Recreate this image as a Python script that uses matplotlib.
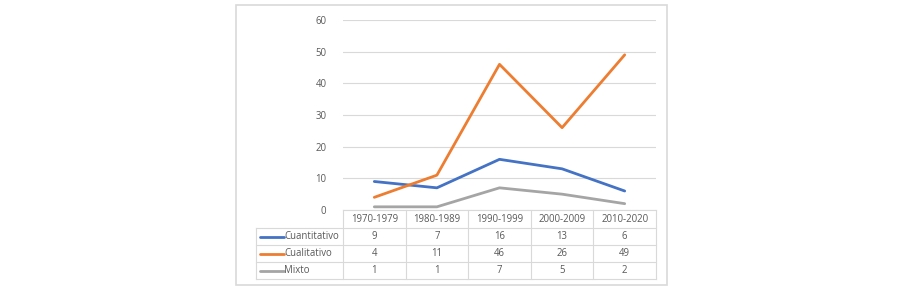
import matplotlib
matplotlib.use("Agg")
import matplotlib.pyplot as plt
from matplotlib.patches import Rectangle

categories = ["1970-1979", "1980-1989", "1990-1999", "2000-2009", "2010-2020"]
series_names = ["Cuantitativo", "Cualitativo", "Mixto"]
cuantitativo = [9, 7, 16, 13, 6]
cualitativo = [4, 11, 46, 26, 49]
mixto = [1, 1, 7, 5, 2]
yticks = [0, 10, 20, 30, 40, 50, 60]
colors = ["#4472C4", "#ED7D31", "#A5A5A5"]

W, H = 905, 293
fig = plt.figure(figsize=(W / 100, H / 100), dpi=100)
plt.rcParams['font.family'] = ['Open Sans', 'DejaVu Sans']
FS = 6.9

def fx(x):
    return x / W

def fy(y):
    return 1 - y / H

# outer border
fig.patches.append(Rectangle((fx(236), fy(285)), fx(667) - fx(236), fy(5) - fy(285),
                             transform=fig.transFigure, fill=False, edgecolor="#d9d9d9", lw=1.2))

# plot area
px0, px1, py0, py1 = 343, 656, 210, 20
ax = fig.add_axes([fx(px0), fy(py0), fx(px1) - fx(px0), fy(py1) - fy(py0)])
xs = list(range(len(categories)))
for vals, c in zip([cuantitativo, cualitativo, mixto], colors):
    ax.plot(xs, vals, color=c, lw=2.0, solid_capstyle="round", solid_joinstyle="round", zorder=3)
ax.set_xlim(-0.5, len(categories) - 0.5)
ax.set_ylim(0, 60)
ax.set_yticks(yticks)
ax.set_yticklabels([str(t) for t in yticks], fontsize=FS, color="#595959")
ax.tick_params(axis="y", length=0, pad=12)
ax.set_xticks([])
ax.grid(axis="y", color="#d9d9d9", lw=0.8)
ax.set_axisbelow(True)
for s in ax.spines.values():
    s.set_visible(False)

# table
tx0 = 256
row_y = [210, 228, 245, 262, 279]
axt = fig.add_axes([0, 0, 1, 1], facecolor="none")
axt.set_xlim(0, W)
axt.set_ylim(H, 0)
axt.axis("off")
gc = "#d9d9d9"
ncol = len(categories)
colw = (px1 - px0) / ncol
axt.plot([px0, px1], [row_y[0], row_y[0]], color=gc, lw=0.8)
for y in row_y[1:]:
    axt.plot([tx0, px1], [y, y], color=gc, lw=0.8)
axt.plot([tx0, tx0], [row_y[1], row_y[-1]], color=gc, lw=0.8)
for i in range(ncol + 1):
    x = px0 + i * colw
    axt.plot([x, x], [row_y[0], row_y[-1]], color=gc, lw=0.8)
for i, cat in enumerate(categories):
    axt.text(px0 + (i + 0.5) * colw, (row_y[0] + row_y[1]) / 2, cat, ha="center", va="center",
             fontsize=FS, color="#595959")
for r, (name, vals, c) in enumerate(zip(series_names, [cuantitativo, cualitativo, mixto], colors)):
    yc = (row_y[r + 1] + row_y[r + 2]) / 2
    axt.plot([260, 284], [yc, yc], color=c, lw=2.0, solid_capstyle="round")
    axt.text(284, yc, name, ha="left", va="center", fontsize=FS, color="#595959")
    for i, v in enumerate(vals):
        axt.text(px0 + (i + 0.5) * colw, yc, str(v), ha="center", va="center",
                 fontsize=FS, color="#595959")

fig.savefig("out.png", dpi=100)
